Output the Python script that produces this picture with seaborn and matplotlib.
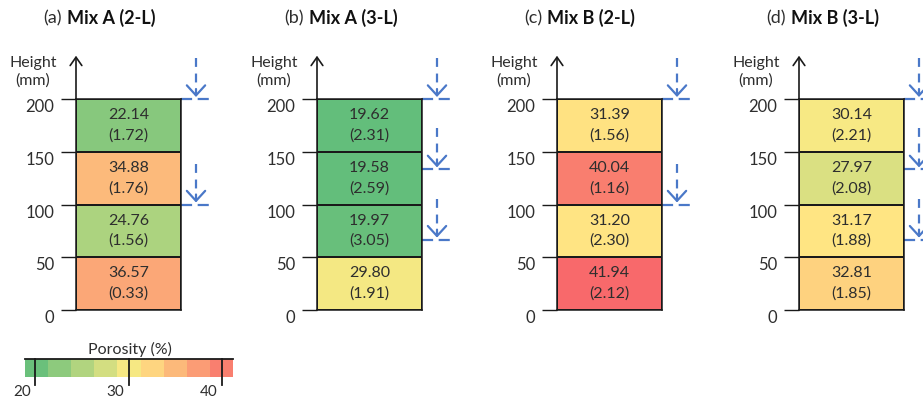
import numpy as np
import matplotlib
matplotlib.use("Agg")
import matplotlib.pyplot as plt
import seaborn as sns
from matplotlib.colors import LinearSegmentedColormap

plt.rcParams['font.family'] = ['Lato', 'DejaVu Sans']

# ---------------- data ----------------
panel_letters = ["(a)", "(b)", "(c)", "(d)"]
panel_titles = ["Mix A (2-L)", "Mix A (3-L)", "Mix B (2-L)", "Mix B (3-L)"]
# layers listed top (150-200 mm) to bottom (0-50 mm)
porosity_a = [22.14, 34.88, 24.76, 36.57]
sd_a = [1.72, 1.76, 1.56, 0.33]
porosity_b = [19.62, 19.58, 19.97, 29.80]
sd_b = [2.31, 2.59, 3.05, 1.91]
porosity_c = [31.39, 40.04, 31.20, 41.94]
sd_c = [1.56, 1.16, 2.30, 2.12]
porosity_d = [30.14, 27.97, 31.17, 32.81]
sd_d = [2.21, 2.08, 1.88, 1.85]
pour_levels_a = [200, 100]
pour_levels_b = [200, 133.3, 66.7]
pour_levels_c = [200, 100]
pour_levels_d = [200, 133.3, 66.7]
height_ticks = [200, 150, 100, 50, 0]
cbar_ticks = [20, 30, 40]
cbar_label = "Porosity (%)"

porosities = [porosity_a, porosity_b, porosity_c, porosity_d]
sds = [sd_a, sd_b, sd_c, sd_d]
pours = [pour_levels_a, pour_levels_b, pour_levels_c, pour_levels_d]

# ---------------- style ----------------
W, H = 923, 401
fig = plt.figure(figsize=(W / 100, H / 100), dpi=100)

vmin, vmax = 19.58, 41.94
cmap = LinearSegmentedColormap.from_list(
    "excel_gyr", [(0.0, "#63BE7B"), (0.495, "#FFEB84"), (1.0, "#F8696B")])

blue = "#4A78C8"
txt = "#2e2e2e"
edge = "#1a1a1a"

box_left_px = [76, 317, 557, 799]
box_w_px = 105
box_top_px, box_bot_px = 99, 310
box_h_px = box_bot_px - box_top_px
px_per_mm = box_h_px / 200.0


def mm_to_y(mm):
    return (200.0 - mm) / 50.0


for i in range(4):
    left = box_left_px[i]
    ax = fig.add_axes([left / W, (H - box_bot_px) / H, box_w_px / W, box_h_px / H])
    vals = np.array(porosities[i]).reshape(4, 1)
    labels = np.array([f"{v:.2f}\n({s:.2f})" for v, s in zip(porosities[i], sds[i])]).reshape(4, 1)
    sns.heatmap(vals, ax=ax, cmap=cmap, vmin=vmin, vmax=vmax, cbar=False,
                annot=labels, fmt="", linewidths=1.1, linecolor=edge,
                annot_kws={"fontsize": 11.5, "color": txt, "linespacing": 1.55})
    for s in ax.spines.values():
        s.set_visible(True)
        s.set_linewidth(1.1)
        s.set_color(edge)
    ax.set_xticks([])
    ax.set_yticks([mm_to_y(t) for t in height_ticks])
    ax.set_yticklabels([str(t) for t in height_ticks], rotation=0, va="top")
    ax.tick_params(axis="y", length=10.8, width=1.0, pad=5, labelsize=12,
                   color=edge, labelcolor=txt)

    # y axis arrow
    ax.annotate("", xy=(0, mm_to_y(241)), xytext=(0, mm_to_y(200)),
                arrowprops=dict(arrowstyle="->,head_length=0.5,head_width=0.35",
                                lw=1.2, color=edge, mutation_scale=12,
                                shrinkA=0, shrinkB=0),
                annotation_clip=False)
    # Height (mm)
    ax.text(-43 / box_w_px, mm_to_y((box_bot_px - 72) / px_per_mm), "Height\n(mm)",
            ha="center", va="center", fontsize=11.5, color=txt, linespacing=1.3,
            clip_on=False)

    # title
    ty = mm_to_y((box_bot_px - 18) / px_per_mm)
    t1 = ax.text(-33 / box_w_px, ty, panel_letters[i], ha="left", va="center",
                 fontsize=13, color=txt, clip_on=False)
    ax.annotate(panel_titles[i], xy=(1, 0.5), xycoords=t1, xytext=(3.8, 0),
                textcoords="offset points", ha="left", va="center",
                fontsize=13, fontweight="bold", color="#111111")

    # pour arrows
    ax_x = 1 + 15 / box_w_px
    for lev in pours[i]:
        y_tip = mm_to_y(lev + 2 / px_per_mm)
        y_start = mm_to_y(lev + 41 / px_per_mm)
        y_mid = mm_to_y(lev + 12 / px_per_mm)
        ax.plot([ax_x, ax_x], [y_start, y_mid], color=blue, lw=1.6,
                dashes=(4, 3), clip_on=False, solid_capstyle="butt")
        ax.annotate("", xy=(ax_x, y_tip), xytext=(ax_x, mm_to_y(lev + 10 / px_per_mm)),
                    arrowprops=dict(arrowstyle="->,head_length=0.6,head_width=0.55",
                                    lw=1.6, color=blue, mutation_scale=12,
                                    shrinkA=0, shrinkB=0),
                    annotation_clip=False)
        ax.plot([1.0, 1 + 28 / box_w_px], [mm_to_y(lev), mm_to_y(lev)],
                color=blue, lw=1.6, dashes=(5, 2.5), clip_on=False,
                solid_capstyle="butt")

# ---------------- colour legend ----------------
cb_left, cb_right = 25, 233
cb_top, cb_bot = 359, 377
cb_lo, cb_hi = 18.9, 41.2
n_bins = 9
edges_v = np.linspace(cb_lo, cb_hi, n_bins + 1)
centers_v = ((edges_v[:-1] + edges_v[1:]) / 2).reshape(1, n_bins)
axc = fig.add_axes([cb_left / W, (H - cb_bot) / H, (cb_right - cb_left) / W, (cb_bot - cb_top) / H])
sns.heatmap(centers_v, ax=axc, cmap=cmap, vmin=vmin, vmax=vmax, cbar=False,
            xticklabels=False, yticklabels=False)
cb_w = cb_right - cb_left
cb_h = cb_bot - cb_top
for s in axc.spines.values():
    s.set_visible(False)
axc.plot([0, n_bins], [0, 0], color=edge, lw=1.3, clip_on=False)
for t in cbar_ticks:
    xi = (t - cb_lo) / (cb_hi - cb_lo) * n_bins
    axc.plot([xi, xi], [0, 1 + 8 / cb_h], color=edge, lw=1.3, clip_on=False)
    axc.text(xi - 4 / cb_w * n_bins, 1 + 15 / cb_h, str(t), ha="right", va="center",
             fontsize=11, color=txt, clip_on=False)
axc.text((130 - cb_left) / cb_w * n_bins, -9.5 / cb_h, cbar_label, ha="center",
         va="center", fontsize=11.5, color=txt, clip_on=False)

fig.savefig("out.png", dpi=100)
